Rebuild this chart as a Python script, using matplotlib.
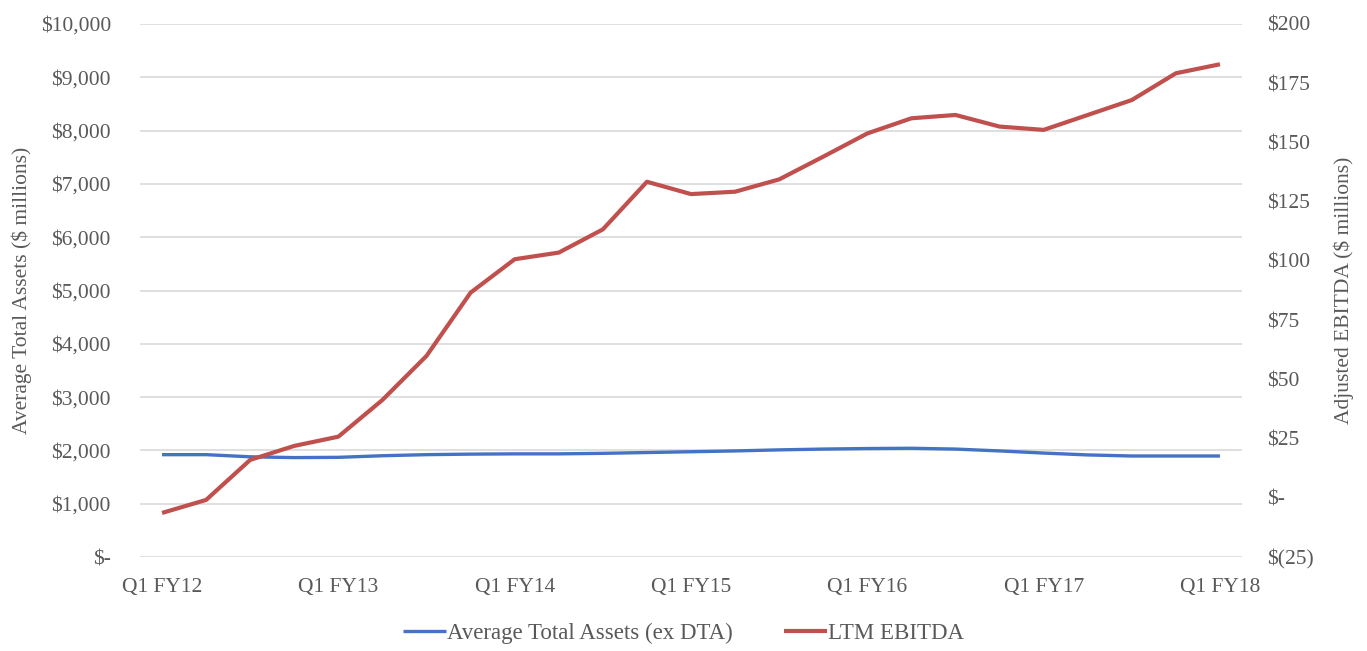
import matplotlib
matplotlib.use("Agg")
import matplotlib.pyplot as plt
from matplotlib.ticker import FixedLocator, FuncFormatter

quarters = [f"Q{q} FY{y}" for y in range(12, 19) for q in range(1, 5)][:25]
tick_labels = ["Q1 FY12", "Q1 FY13", "Q1 FY14", "Q1 FY15", "Q1 FY16", "Q1 FY17", "Q1 FY18"]

avg_total_assets = [1920, 1920, 1880, 1865, 1870, 1900, 1920, 1930, 1935, 1935,
                    1945, 1960, 1975, 1990, 2010, 2025, 2035, 2040, 2025, 1990,
                    1950, 1915, 1895, 1895, 1895]
ltm_ebitda = [-6.4, -0.9, 16.0, 21.9, 25.8, 41.3, 59.9, 86.6, 100.7, 103.5,
              113.3, 133.4, 128.2, 129.2, 134.4, 144.0, 153.8, 160.2, 161.6, 156.7,
              155.3, 161.6, 167.9, 179.2, 183.0]

plt.rcParams['font.family'] = ['Liberation Serif', 'DejaVu Serif']
text_color = '#595959'
blue = '#4472C4'
red = '#C0504D'

fig = plt.figure(figsize=(13.67, 6.51), dpi=100)
ax = fig.add_axes([140/1367, 1-557/651, (1242-140)/1367, (557-24)/651])
ax2 = ax.twinx()

x = list(range(len(quarters)))
l1, = ax.plot(x, avg_total_assets, color=blue, lw=2.4, solid_capstyle='butt', zorder=3)
l2, = ax2.plot(x, ltm_ebitda, color=red, lw=3.0, solid_capstyle='butt', zorder=3)

ax.set_xlim(-0.5, len(quarters) - 0.5)
ax.set_ylim(0, 10000)
ax2.set_ylim(-25, 200)
ax.yaxis.set_major_locator(FixedLocator(range(0, 10001, 1000)))
ax2.yaxis.set_major_locator(FixedLocator(range(-25, 201, 25)))

def fmt_left(v, p):
    return "$-" if v == 0 else f"${v:,.0f}"

def fmt_right(v, p):
    if v == 0:
        return "$-"
    if v < 0:
        return f"$({abs(v):,.0f})"
    return f"${v:,.0f}"

ax.yaxis.set_major_formatter(FuncFormatter(fmt_left))
ax2.yaxis.set_major_formatter(FuncFormatter(fmt_right))

ax.set_xticks([quarters.index(t) for t in tick_labels])
ax.set_xticklabels(tick_labels)

ax.grid(axis='y', color='#D9D9D9', lw=1.2)
ax.set_axisbelow(True)
for a in (ax, ax2):
    for s in a.spines.values():
        s.set_visible(False)
    a.tick_params(length=0, labelsize=15.5, colors=text_color)
ax.tick_params(axis='y', pad=21)
ax2.tick_params(axis='y', pad=18)
ax.tick_params(axis='x', pad=15)

ax.set_ylabel("Average Total Assets ($ millions)", fontsize=15.5, color=text_color, labelpad=6)
ax2.set_ylabel("Adjusted EBITDA ($ millions)", fontsize=15.5, color=text_color, labelpad=14, rotation=90)

fig.legend([l1, l2], ["Average Total Assets (ex DTA)", "LTM EBITDA"],
           loc='center', bbox_to_anchor=(0.5, 1-633/651), ncol=2, frameon=False,
           fontsize=16.5, handlelength=1.9, handletextpad=0.05, columnspacing=2.2,
           labelcolor=text_color)

fig.savefig("out.png", dpi=100, facecolor='white')
